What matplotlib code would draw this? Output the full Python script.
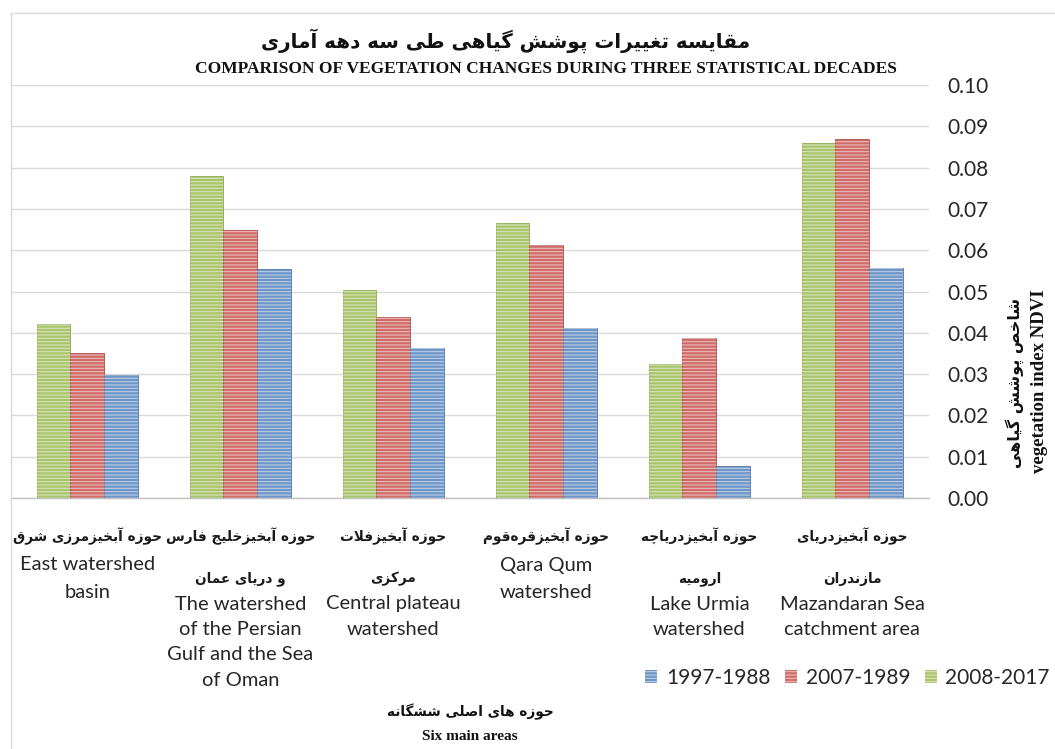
import numpy as np
import matplotlib
matplotlib.use("Agg")
import matplotlib.pyplot as plt
from matplotlib.lines import Line2D
from matplotlib.patches import Patch
import matplotlib.transforms as mtransforms

# ---- data ----
cats_fa = [
    ["حوزه آبخیزمرزی شرق"],
    ["حوزه آبخیزخلیج فارس", "و دریای عمان"],
    ["حوزه آبخیزفلات", "مرکزی"],
    ["حوزه آبخیزقره\u200cقوم"],
    ["حوزه آبخیزدریاچه", "ارومیه"],
    ["حوزه آبخیزدریای", "مازندران"],
]
cats_en = [
    ["East watershed", "basin"],
    ["The watershed", "of the Persian", "Gulf and the Sea", "of Oman"],
    ["Central plateau", "watershed"],
    ["Qara Qum", "watershed"],
    ["Lake Urmia", "watershed"],
    ["Mazandaran Sea", "catchment area"],
]
ndvi_2008_2017 = [0.0422, 0.0779, 0.0503, 0.0665, 0.0325, 0.0860]
ndvi_2007_1989 = [0.0350, 0.0649, 0.0438, 0.0612, 0.0388, 0.0869]
ndvi_1997_1988 = [0.0298, 0.0554, 0.0363, 0.0412, 0.0078, 0.0556]
series_labels = ["2008-2017", "2007-1989", "1997-1988"]

title_fa = "مقایسه تغییرات پوشش گیاهی طی سه دهه آماری"
title_en = "COMPARISON OF VEGETATION CHANGES DURING THREE STATISTICAL DECADES"
xlabel_fa = "حوزه های اصلی ششگانه"
xlabel_en = "Six main areas"
ylabel_fa = "شاخص پوشش گیاهی"
ylabel_en = "vegetation index NDVI"

# ---- minimal Persian shaping (matplotlib has no complex text layout) ----
FORMS = {
    'ا': ('\uFE8D', '\uFE8E', None, None), 'آ': ('\uFE81', '\uFE82', None, None),
    'ب': ('\uFE8F', '\uFE90', '\uFE91', '\uFE92'), 'ت': ('\uFE95', '\uFE96', '\uFE97', '\uFE98'),
    'ج': ('\uFE9D', '\uFE9E', '\uFE9F', '\uFEA0'), 'ح': ('\uFEA1', '\uFEA2', '\uFEA3', '\uFEA4'),
    'خ': ('\uFEA5', '\uFEA6', '\uFEA7', '\uFEA8'), 'د': ('\uFEA9', '\uFEAA', None, None),
    'ر': ('\uFEAD', '\uFEAE', None, None), 'ز': ('\uFEAF', '\uFEB0', None, None),
    'س': ('\uFEB1', '\uFEB2', '\uFEB3', '\uFEB4'), 'ش': ('\uFEB5', '\uFEB6', '\uFEB7', '\uFEB8'),
    'ص': ('\uFEB9', '\uFEBA', '\uFEBB', '\uFEBC'), 'ط': ('\uFEC1', '\uFEC2', '\uFEC3', '\uFEC4'),
    'ع': ('\uFEC9', '\uFECA', '\uFECB', '\uFECC'), 'غ': ('\uFECD', '\uFECE', '\uFECF', '\uFED0'),
    'ف': ('\uFED1', '\uFED2', '\uFED3', '\uFED4'), 'ق': ('\uFED5', '\uFED6', '\uFED7', '\uFED8'),
    'ل': ('\uFEDD', '\uFEDE', '\uFEDF', '\uFEE0'), 'م': ('\uFEE1', '\uFEE2', '\uFEE3', '\uFEE4'),
    'ن': ('\uFEE5', '\uFEE6', '\uFEE7', '\uFEE8'), 'ه': ('\uFEE9', '\uFEEA', '\uFEEB', '\uFEEC'),
    'و': ('\uFEED', '\uFEEE', None, None), 'پ': ('\uFB56', '\uFB57', '\uFB58', '\uFB59'),
    'چ': ('\uFB7A', '\uFB7B', '\uFB7C', '\uFB7D'), 'ک': ('\uFB8E', '\uFB8F', '\uFB90', '\uFB91'),
    'گ': ('\uFB92', '\uFB93', '\uFB94', '\uFB95'), 'ی': ('\uFBFC', '\uFBFD', '\uFBFE', '\uFBFF'),
}
LAM_ALEF = {'ا': ('\uFEFB', '\uFEFC'), 'آ': ('\uFEF5', '\uFEF6')}


def fa(text):
    def joins_next(c):
        return c in FORMS and FORMS[c][2] is not None
    out = []
    i, n = 0, len(text)
    while i < n:
        c = text[i]
        if c not in FORMS:
            if c != '\u200c':
                out.append(c)
            i += 1
            continue
        prev = text[i - 1] if i > 0 else None
        nxt = text[i + 1] if i + 1 < n else None
        con_prev = prev is not None and joins_next(prev)
        if c == 'ل' and nxt in LAM_ALEF:
            out.append(LAM_ALEF[nxt][1] if con_prev else LAM_ALEF[nxt][0])
            i += 2
            continue
        con_next = joins_next(c) and nxt is not None and nxt in FORMS
        iso, fin, ini, med = FORMS[c]
        if con_prev and con_next:
            out.append(med)
        elif con_prev:
            out.append(fin)
        elif con_next:
            out.append(ini)
        else:
            out.append(iso)
        i += 1
    return ''.join(reversed(out))


plt.rcParams['hatch.linewidth'] = 0.8

W, H = 1055, 749
fig = plt.figure(figsize=(W / 100, H / 100), dpi=100)
ax = fig.add_axes([10.9 / W, 1 - 498 / H, 918 / W, 413 / H])

colors = ['#a9c46b', '#d06b68', '#6d95c8']
edges = ['#8fab52', '#b04d4a', '#5479ad']
x = np.arange(len(cats_en))
w = 0.2215
for k, vals in enumerate([ndvi_2008_2017, ndvi_2007_1989, ndvi_1997_1988]):
    pos = x + (k - 1) * w
    ax.bar(pos, vals, w, color=colors[k], edgecolor=edges[k], linewidth=0.6, zorder=2)
    ax.bar(pos, vals, w, facecolor='none', edgecolor=(1, 1, 1, 0.55), linewidth=0,
           hatch='-----', zorder=3)

ax.set_xlim(-0.5, len(cats_en) - 0.5)
ax.set_ylim(0, 0.10)
ax.set_yticks(np.arange(0, 0.1001, 0.01))
ax.yaxis.set_major_formatter(matplotlib.ticker.FormatStrFormatter('%.2f'))
ax.yaxis.tick_right()
ax.tick_params(axis='y', length=0, pad=13.5, labelsize=15, labelcolor='#262626')
for t in ax.get_yticklabels():
    t.set_fontfamily('Lato')
ax.set_xticks([])
ax.grid(axis='y', color='#d9d9d9', linewidth=1, zorder=0)
ax.set_axisbelow(True)
for s in ['top', 'left', 'right']:
    ax.spines[s].set_visible(False)
ax.spines['bottom'].set_color('#bfbfbf')
ax.spines['bottom'].set_linewidth(1)

# category labels
trans = mtransforms.blended_transform_factory(ax.transData, fig.transFigure)
for i in range(len(cats_en)):
    fa_lines = cats_fa[i]
    for j, line in enumerate(fa_lines):
        fig.text(x[i], 1 - [536, 579][j] / H, fa(line), transform=trans, ha='center',
                 va='center', fontsize=9.8, fontweight='bold', family='DejaVu Sans', color='#1a1a1a')
    ys = [565, 592] if len(fa_lines) == 1 else [604, 629.5, 655, 680.5]
    for j, line in enumerate(cats_en[i]):
        fig.text(x[i], 1 - ys[j] / H, line, transform=trans, ha='center', va='center',
                 fontsize=14.5, family='Lato', color='#262626')

# titles
fig.text(506 / W, 1 - 41 / H, fa(title_fa), ha='center', va='center', fontsize=14.3,
         fontweight='bold', family='DejaVu Sans', color='#111111')
fig.text(546 / W, 1 - 69 / H, title_en, ha='center', va='center', fontsize=12.5,
         fontweight='bold', family='Liberation Serif', color='#111111')
fig.text(470 / W, 1 - 712 / H, fa(xlabel_fa), ha='center', va='center', fontsize=9.8,
         fontweight='bold', family='DejaVu Sans', color='#111111')
fig.text(470 / W, 1 - 737 / H, xlabel_en, ha='center', va='center', fontsize=11,
         fontweight='bold', family='Liberation Serif', color='#111111')
fig.text(1015 / W, 1 - 383 / H, fa(ylabel_fa), ha='center', va='center', rotation=90,
         fontsize=11.5, fontweight='bold', family='DejaVu Sans', color='#111111')
fig.text(1040 / W, 1 - 381 / H, ylabel_en, ha='center', va='center', rotation=90,
         fontsize=13.5, fontweight='bold', family='Liberation Serif', color='#111111')

# legend (order as in reference)
handles = [Patch(facecolor=colors[k], edgecolor=(1, 1, 1, 0.55), hatch='-----', linewidth=0)
           for k in [2, 1, 0]]
labels = [series_labels[k] for k in [2, 1, 0]]
fig.legend(handles, labels, loc='center right', bbox_to_anchor=(1050 / W, 1 - 678 / H),
           ncol=3, frameon=False, prop={'family': 'Lato', 'size': 15},
           handlelength=0.6, handleheight=0.6, handletextpad=0.4, columnspacing=0.7,
           borderaxespad=0, borderpad=0, labelcolor='#262626')

# chart-area border (left and top only visible)
fig.add_artist(Line2D([11 / W, 11 / W], [0, 1 - 13 / H], color='#d9d9d9', lw=1))
fig.add_artist(Line2D([11 / W, 1], [1 - 13 / H, 1 - 13 / H], color='#d9d9d9', lw=1))

fig.savefig("out.png", dpi=100)
